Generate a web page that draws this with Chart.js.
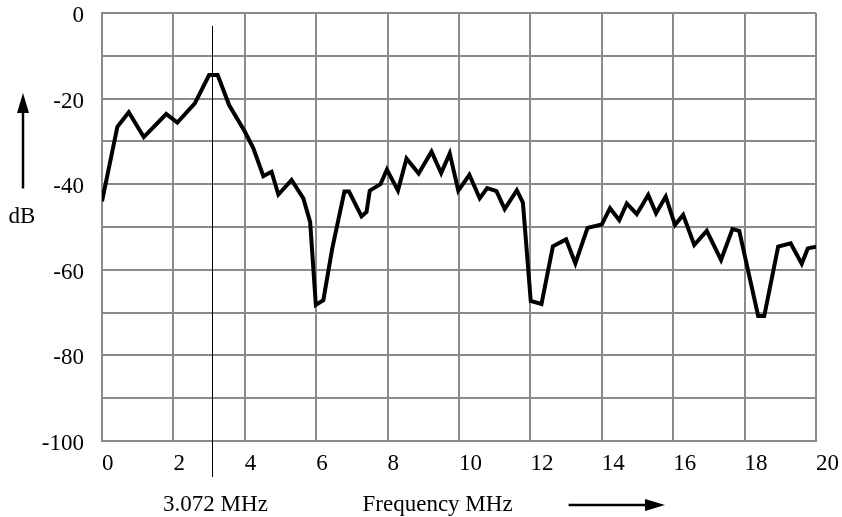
<!DOCTYPE html>
<html>
<head>
<meta charset="utf-8">
<script src="https://cdn.jsdelivr.net/npm/chart.js@4/dist/chart.umd.min.js"></script>
<style>
  html, body { margin: 0; padding: 0; background: #ffffff; }
  #wrap { width: 842px; height: 517px; position: relative; }
</style>
</head>
<body>
<div id="wrap"><canvas id="c" width="842" height="517"></canvas></div>
<script>
// ---- data ----
const freqMHz = [0, 0.43, 0.75, 1.17, 1.8, 2.11, 2.6, 3.0, 3.24, 3.56, 4.0, 4.24, 4.52, 4.75, 4.94, 5.31, 5.64, 5.83, 5.99, 6.2,
  6.45, 6.79, 6.92, 7.27, 7.41, 7.5, 7.8, 7.98, 8.29, 8.53, 8.87, 9.23, 9.5, 9.74, 9.98, 10.29, 10.58, 10.79, 11.05, 11.28,
  11.62, 11.79, 12.01, 12.31, 12.63, 13.0, 13.26, 13.6, 14.0, 14.23, 14.49, 14.7, 14.98, 15.3, 15.52, 15.79, 16.05, 16.28, 16.59, 16.94,
  17.34, 17.66, 17.85, 18.38, 18.55, 18.94, 19.29, 19.6, 19.77, 20.0];
const levelDb = [-44, -26.6, -23.2, -29.0, -23.6, -25.6, -21.1, -14.5, -14.5, -21.5, -27.7, -31.6, -38.1, -37.1, -42.4, -39.0, -43.3, -48.8, -68.2, -67.1,
  -55, -41.7, -41.7, -47.5, -46.5, -41.5, -40.0, -36.6, -41.5, -34.0, -37.5, -32.4, -37.4, -32.8, -41.5, -37.8, -43.3, -40.9, -41.6, -45.8,
  -41.4, -44.3, -67.3, -68.0, -54.5, -52.9, -58.5, -50.2, -49.4, -45.6, -48.4, -44.5, -47.0, -42.5, -46.8, -42.9, -49.5, -47.2, -54.2, -50.9,
  -57.7, -50.5, -50.9, -70.8, -70.8, -54.6, -53.8, -58.6, -55.0, -54.6];
const xTickLabels = ['0', '2', '4', '6', '8', '10', '12', '14', '16', '18', '20'];
const yTickLabels = ['0', '-20', '-40', '-60', '-80', '-100'];
const markerFreq = 3.072;
const markerLabel = '3.072 MHz';
const xTitle = 'Frequency MHz';
const yTitle = 'dB';

const FONT = 'Liberation Serif, Times New Roman, serif';
const GRID = '#8a8a8a';

const points = freqMHz.map((f, i) => ({ x: f, y: levelDb[i] }));

const decor = {
  id: 'decor',
  afterDraw(chart) {
    const ctx = chart.ctx;
    const xs = chart.scales.x, ys = chart.scales.y;
    const area = chart.chartArea;
    ctx.save();
    // marker line
    const mx = Math.round(xs.getPixelForValue(markerFreq)) + 0.5;
    ctx.strokeStyle = '#000';
    ctx.lineWidth = 1;
    ctx.beginPath();
    ctx.moveTo(mx, ys.getPixelForValue(-3));
    ctx.lineTo(mx, area.bottom + 36);
    ctx.stroke();
    // texts
    ctx.fillStyle = '#000';
    ctx.font = '23px ' + FONT;
    ctx.textBaseline = 'alphabetic';
    ctx.textAlign = 'center';
    ctx.fillText(markerLabel, mx + 3, area.bottom + 70);
    ctx.fillText(xTitle, xs.getPixelForValue(9.4), area.bottom + 70);
    ctx.fillText(yTitle, 22, ys.getPixelForValue(-49));
    // x arrow
    const ax0 = xs.getPixelForValue(13.07), ax1 = xs.getPixelForValue(15.77), ay = area.bottom + 64;
    ctx.lineWidth = 2.5;
    ctx.beginPath();
    ctx.moveTo(ax0, ay);
    ctx.lineTo(ax1 - 16, ay);
    ctx.stroke();
    ctx.beginPath();
    ctx.moveTo(ax1, ay);
    ctx.lineTo(ax1 - 20, ay - 6);
    ctx.lineTo(ax1 - 20, ay + 6);
    ctx.closePath();
    ctx.fill();
    // y arrow
    const yx = 23, yBot = ys.getPixelForValue(-41), yTop = ys.getPixelForValue(-18.7);
    ctx.beginPath();
    ctx.moveTo(yx, yBot);
    ctx.lineTo(yx, yTop + 16);
    ctx.stroke();
    ctx.beginPath();
    ctx.moveTo(yx, yTop);
    ctx.lineTo(yx - 6, yTop + 20);
    ctx.lineTo(yx + 6, yTop + 20);
    ctx.closePath();
    ctx.fill();
    ctx.restore();
  }
};

new Chart(document.getElementById('c'), {
  type: 'line',
  data: {
    datasets: [{
      data: points,
      borderColor: '#000',
      borderWidth: 4,
      pointRadius: 0,
      tension: 0,
      fill: false
    }]
  },
  options: {
    responsive: false,
    animation: false,
    devicePixelRatio: 1,
    layout: { padding: { left: 0, right: 26, top: 13, bottom: 0 } },
    plugins: { legend: { display: false }, tooltip: { enabled: false } },
    scales: {
      x: {
        type: 'linear',
        min: 0, max: 20,
        afterFit(s) { s.height = 76; s.paddingLeft = 0; s.paddingRight = 0; },
        grid: { color: GRID, lineWidth: 2, drawTicks: false },
        border: { color: GRID, width: 2 },
        ticks: {
          stepSize: 2,
          autoSkip: false,
          maxRotation: 0,
          align: 'start',
          padding: 9,
          color: '#000',
          font: { family: FONT, size: 23 },
          callback: (v) => xTickLabels[v / 2]
        }
      },
      y: {
        type: 'linear',
        min: -100, max: 0,
        afterFit(s) { s.width = 102; s.paddingTop = 0; s.paddingBottom = 0; },
        grid: { color: GRID, lineWidth: 2, drawTicks: false },
        border: { color: GRID, width: 2 },
        ticks: {
          stepSize: 10,
          autoSkip: false,
          padding: 18,
          labelOffset: 3,
          color: '#000',
          font: { family: FONT, size: 23 },
          callback: (v) => (v % 20 === 0 ? yTickLabels[-v / 20] : '')
        }
      }
    }
  },
  plugins: [decor]
});
</script>
</body>
</html>
